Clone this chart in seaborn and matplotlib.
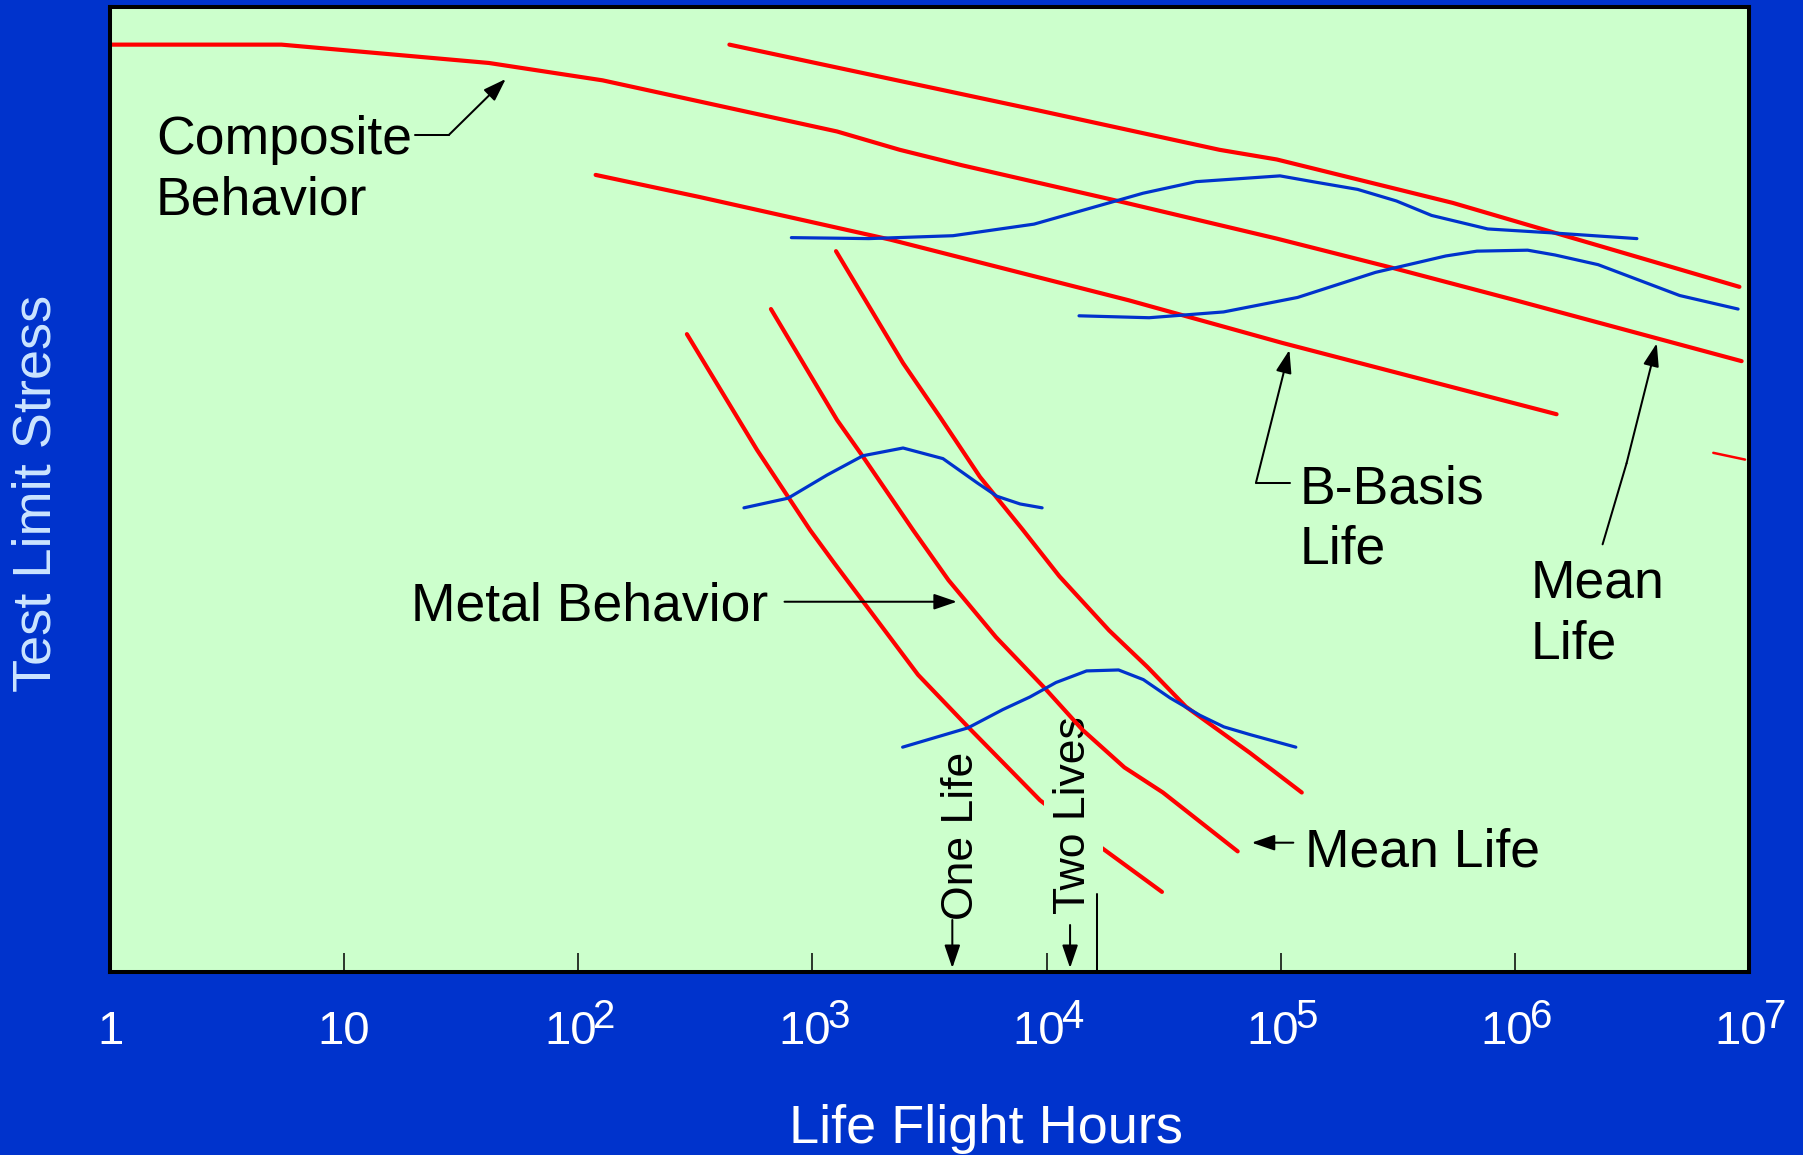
import numpy as np
import matplotlib
matplotlib.use("Agg")
import matplotlib.pyplot as plt
from matplotlib.ticker import NullLocator
import seaborn as sns

# ---------------- data (life in flight hours, stress in arbitrary units 0-100) ----------------
comp_mean_hours = [1, 5.4, 41.5, 127, 331, 1274, 2361, 4351, 21000, 96200, 307600, 1.01e6, 9.3e6]
comp_mean_stress = [96.1, 96.1, 94.2, 92.4, 90.2, 87.1, 85.2, 83.6, 79.8, 76.0, 72.9, 69.6, 63.3]

comp_upper_hours = [442, 9160, 54800, 96200, 543000, 9.1e6]
comp_upper_stress = [96.1, 89.3, 85.2, 84.2, 79.7, 71.0]

bbasis_hours = [118.6, 331, 2145, 22500, 101200, 1.507e6]
bbasis_stress = [82.6, 80.3, 75.9, 69.6, 65.2, 57.8]

stub_hours = [7.04e6, 9.62e6]
stub_stress = [53.8, 53.1]

comp_dist_upper_hours = [813, 1741, 3985, 8840, 25800, 43500, 99300, 137000, 213000,
                         312000, 441000, 766000, 1.426e6, 3.32e6]
comp_dist_upper_stress = [76.1, 76.0, 76.3, 77.5, 80.7, 81.9, 82.5, 81.9, 81.1,
                          79.9, 78.4, 77.0, 76.6, 76.0]

comp_dist_lower_hours = [13760, 27400, 57000, 118000, 254000, 507000, 689000, 1.134e6,
                         1.485e6, 2.267e6, 5.06e6, 8.98e6]
comp_dist_lower_stress = [68.0, 67.8, 68.4, 69.9, 72.5, 74.2, 74.7, 74.8,
                          74.3, 73.3, 70.1, 68.7]

metal_a_hours = [291, 580, 977, 1237, 2825, 4617, 9376, 16900, 31100]
metal_a_stress = [66.1, 54.1, 45.8, 42.4, 30.8, 25.4, 17.8, 13.0, 8.3]

metal_b_hours = [665, 1274, 1644, 2690, 3813, 6080, 9750, 14230, 21500, 31400, 65500]
metal_b_stress = [68.7, 57.2, 53.4, 45.8, 40.6, 34.7, 29.5, 25.1, 21.2, 18.6, 12.5]

metal_c_hours = [1261, 2438, 3508, 5196, 7930, 11350, 18490, 26980, 39330, 73950, 123000]
metal_c_stress = [74.7, 63.1, 57.5, 51.3, 45.8, 41.0, 35.4, 31.6, 27.5, 22.7, 18.6]

metal_dist_upper_hours = [510, 787, 1155, 1644, 2438, 3610, 5047, 6140, 7710, 9570]
metal_dist_upper_stress = [48.1, 49.1, 51.5, 53.5, 54.3, 53.2, 50.7, 49.3, 48.5, 48.1]

metal_dist_lower_hours = [2428, 4617, 6510, 8490, 10970, 14820, 20300, 25900, 33700,
                          45200, 57200, 74000, 116000]
metal_dist_lower_stress = [23.3, 25.3, 27.2, 28.5, 30.0, 31.2, 31.3, 30.3, 28.4,
                           26.6, 25.4, 24.6, 23.3]

tick_values = [1, 10, 1e2, 1e3, 1e4, 1e5, 1e6, 1e7]
tick_bases = ['1', '10', '10', '10', '10', '10', '10', '10']
tick_exponents = ['', '', '2', '3', '4', '5', '6', '7']

one_life_hours = 3958
two_lives_hours = 12600
marker_line_hours = 16400

# ---------------- style ----------------
sns.set_style("white")
plt.rcParams['font.family'] = ['Liberation Sans', 'DejaVu Sans']

BG = '#0033CC'
PANEL = '#CCFFCC'
RED = '#FF0000'
BLUE = '#0033CC'

fig = plt.figure(figsize=(18.03, 11.55), dpi=100, facecolor=BG)
ax = fig.add_axes([0.06101, 0.15844, 0.90904, 0.83550])
ax.set_facecolor(PANEL)
ax.set_xscale('log')


def draw(h, s, color, lw, z):
    sns.lineplot(x=h, y=s, sort=False, estimator=None, color=color, lw=lw,
                 ax=ax, zorder=z, solid_capstyle='round')


draw(metal_a_hours, metal_a_stress, RED, 3.0, 2)
draw(comp_mean_hours, comp_mean_stress, RED, 3.0, 4)
draw(comp_upper_hours, comp_upper_stress, RED, 3.0, 4)
draw(bbasis_hours, bbasis_stress, RED, 3.0, 4)
draw(stub_hours, stub_stress, RED, 1.8, 4)
draw(metal_b_hours, metal_b_stress, RED, 3.0, 4)
draw(metal_c_hours, metal_c_stress, RED, 3.0, 4)
draw(comp_dist_upper_hours, comp_dist_upper_stress, BLUE, 2.3, 5)
draw(comp_dist_lower_hours, comp_dist_lower_stress, BLUE, 2.3, 5)
draw(metal_dist_upper_hours, metal_dist_upper_stress, BLUE, 2.3, 5)
draw(metal_dist_lower_hours, metal_dist_lower_stress, BLUE, 2.3, 5)

ax.set_xlim(1, 1e7)
ax.set_ylim(0, 100)
ax.set_xlabel('')
ax.set_ylabel('')
ax.set_yticks([])
ax.set_xticks(tick_values)
ax.set_xticklabels([''] * len(tick_values))
ax.xaxis.set_minor_locator(NullLocator())
ax.tick_params(axis='x', direction='in', length=13.7, width=1.1, color='black',
               bottom=True, top=False)
for sp in ax.spines.values():
    sp.set_color('black')
    sp.set_linewidth(2.9)
    sp.set_zorder(6)

# tick labels: base number plus raised exponent, drawn below the axis
xt = ax.get_xaxis_transform()
for v, b, e in zip(tick_values, tick_bases, tick_exponents):
    if e:
        t = ax.annotate(b, xy=(v, 0), xycoords=xt, xytext=(-8, -72), textcoords='offset pixels',
                        ha='center', va='baseline', fontsize=34, color='white',
                        annotation_clip=False)
        ax.annotate(e, xy=(v, 0), xycoords=xt, xytext=(15, -56), textcoords='offset pixels',
                    ha='left', va='baseline', fontsize=29, color='white',
                    annotation_clip=False)
    else:
        ax.annotate(b, xy=(v, 0), xycoords=xt, xytext=(0, -72), textcoords='offset pixels',
                    ha='center', va='baseline', fontsize=34, color='white',
                    annotation_clip=False)

# ---------------- annotations ----------------
ARW = dict(arrowstyle='-|>,head_length=0.7,head_width=0.24', lw=1.45, color='black',
           shrinkA=0, shrinkB=0, mutation_scale=20)
TXT = dict(fontsize=38.5, color='black', va='baseline', ha='left', transform=ax.transAxes)

# Composite Behavior
ax.text(0.028, 0.8474, 'Composite', **TXT)
ax.text(0.028, 0.7845, 'Behavior', **TXT)
ax.plot([20.1, 28.0], [86.74, 86.74], color='black', lw=1.45, zorder=6)
ax.annotate('', xy=(49.0, 92.54), xytext=(28.0, 86.74), arrowprops=ARW, zorder=6)

# Metal Behavior
ax.text(0.1837, 0.3640, 'Metal Behavior', **TXT)
ax.annotate('', xy=(4140, 38.37), xytext=(760, 38.37), arrowprops=ARW, zorder=6)

# Mean Life (metal)
ax.text(0.7291, 0.1098, 'Mean Life', **TXT)
ax.annotate('', xy=(75200, 13.40), xytext=(113200, 13.40), arrowprops=ARW, zorder=6)

# B-Basis Life
ax.text(0.7261, 0.4860, 'B-Basis', **TXT)
ax.text(0.7261, 0.4238, 'Life', **TXT)
ax.plot([109600, 78400], [50.70, 50.70], color='black', lw=1.45, zorder=6)
ax.annotate('', xy=(108900, 64.46), xytext=(78400, 50.70), arrowprops=ARW, zorder=6)

# Mean Life (composite)
ax.text(0.8670, 0.3876, 'Mean', **TXT)
ax.text(0.8670, 0.3244, 'Life', **TXT)
ax.plot([2.37e6, 3.0e6], [44.32, 52.72], color='black', lw=1.45, zorder=6)
ax.annotate('', xy=(4.036e6, 65.15), xytext=(3.0e6, 52.72), arrowprops=ARW, zorder=6)

# One Life / Two Lives markers
ax.text(0.5194, 0.1409, 'One Life', rotation=90, ha='center', va='center',
        fontsize=32, color='black', transform=ax.transAxes, zorder=3)
ax.text(0.5877, 0.1627, 'Two Lives', rotation=90, ha='center', va='center',
        fontsize=32, color='black', transform=ax.transAxes, zorder=3,
        bbox=dict(boxstyle='square,pad=0.2', fc=PANEL, ec='none'))
ax.annotate('', xy=(one_life_hours, 0.41), xytext=(one_life_hours, 5.39),
            arrowprops=ARW, zorder=6)
ax.annotate('', xy=(two_lives_hours, 0.41), xytext=(two_lives_hours, 4.87),
            arrowprops=ARW, zorder=6)
ax.plot([marker_line_hours, marker_line_hours], [8.08, 0], color='black', lw=1.45, zorder=6)

# axis titles
fig.text(0.5469, 0.01065, 'Life Flight Hours', ha='center', va='baseline',
         fontsize=39, color='white')
fig.text(0.020, 0.5727, 'Test Limit Stress', rotation=90, ha='center', va='center',
         fontsize=39, color='#CCE5FF')

fig.savefig('out.png', dpi=100, facecolor=BG)
